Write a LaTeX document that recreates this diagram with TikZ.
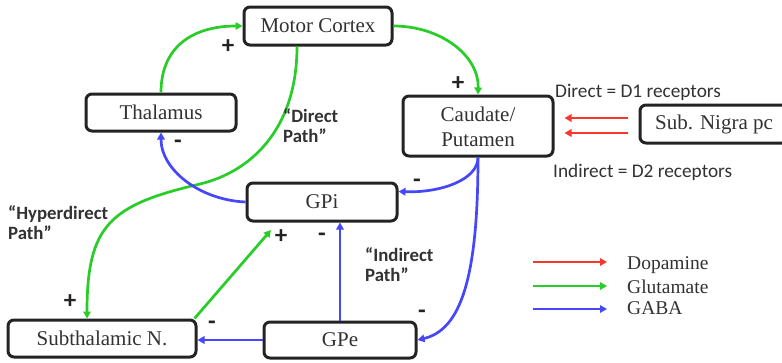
\documentclass[tikz,border=0pt]{standalone}
\usepackage{fontspec}
\setmainfont{Liberation Serif}
\newfontfamily\lblfont{Carlito}
\usetikzlibrary{arrows.meta,calc}
\definecolor{cgreen}{RGB}{40,205,40}
\definecolor{cblue}{RGB}{70,70,250}
\definecolor{cred}{RGB}{250,55,45}
\definecolor{cbox}{RGB}{35,35,35}
\definecolor{ctext}{RGB}{50,50,50}
\begin{document}
\begin{tikzpicture}[x=1pt,y=-1pt,
 box/.style={draw=cbox, line width=3pt, rounded corners=6pt, inner sep=0pt, text=ctext, font=\fontsize{21}{25}\selectfont, align=center},
 conn/.style={line width=2.7pt, -{Triangle[length=7pt,width=7.5pt]}},
 glu/.style={conn, draw=cgreen},
 gaba/.style={conn, draw=cblue},
 dopa/.style={conn, draw=cred},
 pathlbl/.style={font=\lblfont\bfseries\fontsize{18.8}{20}\selectfont, align=left, anchor=west, inner sep=0pt, text=ctext},
 rcp/.style={font=\lblfont\fontsize{19.3}{20}\selectfont, anchor=west, inner sep=0pt, text=ctext},
 sgn/.style={font=\lblfont\bfseries\fontsize{25}{25}\selectfont, inner sep=0pt, text=cbox},
 leg/.style={font=\fontsize{19.5}{20}\selectfont, anchor=west, inner sep=0pt, text=ctext}
]
\useasboundingbox (0,0) rectangle (782,362);
\fill[white] (0,0) rectangle (782,362);
\clip (0,0) rectangle (782,362);

% nodes
\node[box, minimum width=148pt, minimum height=38pt] (mc) at (318,26) {Motor Cortex};
\node[box, minimum width=150pt, minimum height=37pt] (thal) at (161,112.5) {Thalamus};
\node[box, minimum width=150pt, minimum height=60pt] (caud) at (478,126)
  {\raisebox{-3pt}[\height][\depth]{\begin{tabular}{@{}c@{}}Caudate/\\Putamen\end{tabular}}};
\node[box, minimum width=148pt, minimum height=38pt] (snpc) at (714,124) {Sub. Nigra pc};
\node[box, minimum width=150pt, minimum height=38pt] (gpi) at (322,202) {GPi};
\node[box, minimum width=188pt, minimum height=37pt] (stn) at (102,338.5) {Subthalamic N.};
\node[box, minimum width=152pt, minimum height=36pt] (gpe) at (340,340) {GPe};

% glutamate
\draw[glu] (thal.north) .. controls (161,45) and (195,26) .. (mc.west);
\draw[glu] (mc.east) .. controls (440,26) and (479,55) .. (caud.north);
\coordinate (hdmid) at (200,184);
\draw[glu] ($(mc.south)+(-21,0)$) .. controls (297,130) and (250,172) .. (hdmid)
   .. controls (110,205) and (87,225) .. ($(stn.north)+(-15,0)$);
\draw[glu, shorten >=10pt] ($(stn.north east)+(-3,0)$) -- ($(gpi.south west)+(32,0)$);

% GABA
\draw[gaba] (gpi.west) .. controls (200,200) and (161,170) .. (thal.south);
\draw[gaba] (caud.south) .. controls (478,180) and (440,193) .. ($(gpi.north east)+(0,10)$);
\draw[gaba] (caud.south) .. controls (478,280) and (460,330) .. (gpe.east);
\draw[gaba] (gpe.north) -- (gpe.north |- gpi.south);
\draw[gaba] (gpe.west) -- (gpe.west -| stn.east);

% dopamine
\coordinate (ra) at (0,118);
\coordinate (rb) at (0,133);
\draw[dopa, shorten <=11pt, shorten >=10pt] (snpc.west |- ra) -- (caud.east |- ra);
\draw[dopa, shorten <=11pt, shorten >=10pt] (snpc.west |- rb) -- (caud.east |- rb);

% labels
\node[pathlbl] (ldp) at (283,126) {“Direct\\Path”};
\node[pathlbl] (lhp) at (8,223) {“Hyperdirect\\Path”};
\node[pathlbl] (lip) at (365,265) {“Indirect\\Path”};
\node[rcp] (rd1) at (555,92) {Direct = D1 receptors};
\node[rcp] (rd2) at (553,172) {Indirect = D2 receptors};

% signs
\node[sgn] (s1) at (228,47) {+};
\node[sgn] (s2) at (458,84) {+};
\node[sgn] (s3) at (70,302) {+};
\node[sgn] (s4) at (281,237) {+};
\node[sgn] (s5) at (178,144) {-};
\node[sgn] (s6) at (417,183) {-};
\node[sgn] (s7) at (422,314) {-};
\node[sgn] (s8) at (212,325) {-};
\node[sgn] (s9) at (322,237) {-};

% legend
\coordinate (l1a) at (533,262); \coordinate (l1b) at (607,262);
\coordinate (l2a) at (533,286); \coordinate (l2b) at (607,286);
\coordinate (l3a) at (533,309); \coordinate (l3b) at (607,309);
\draw[dopa] (l1a) -- (l1b);
\draw[glu] (l2a) -- (l2b);
\draw[gaba] (l3a) -- (l3b);
\node[leg] (ld) at (627,265) {Dopamine};
\node[leg] (lg) at (627,287) {Glutamate};
\node[leg] (lb) at (627,308) {GABA};
\end{tikzpicture}
\end{document}
